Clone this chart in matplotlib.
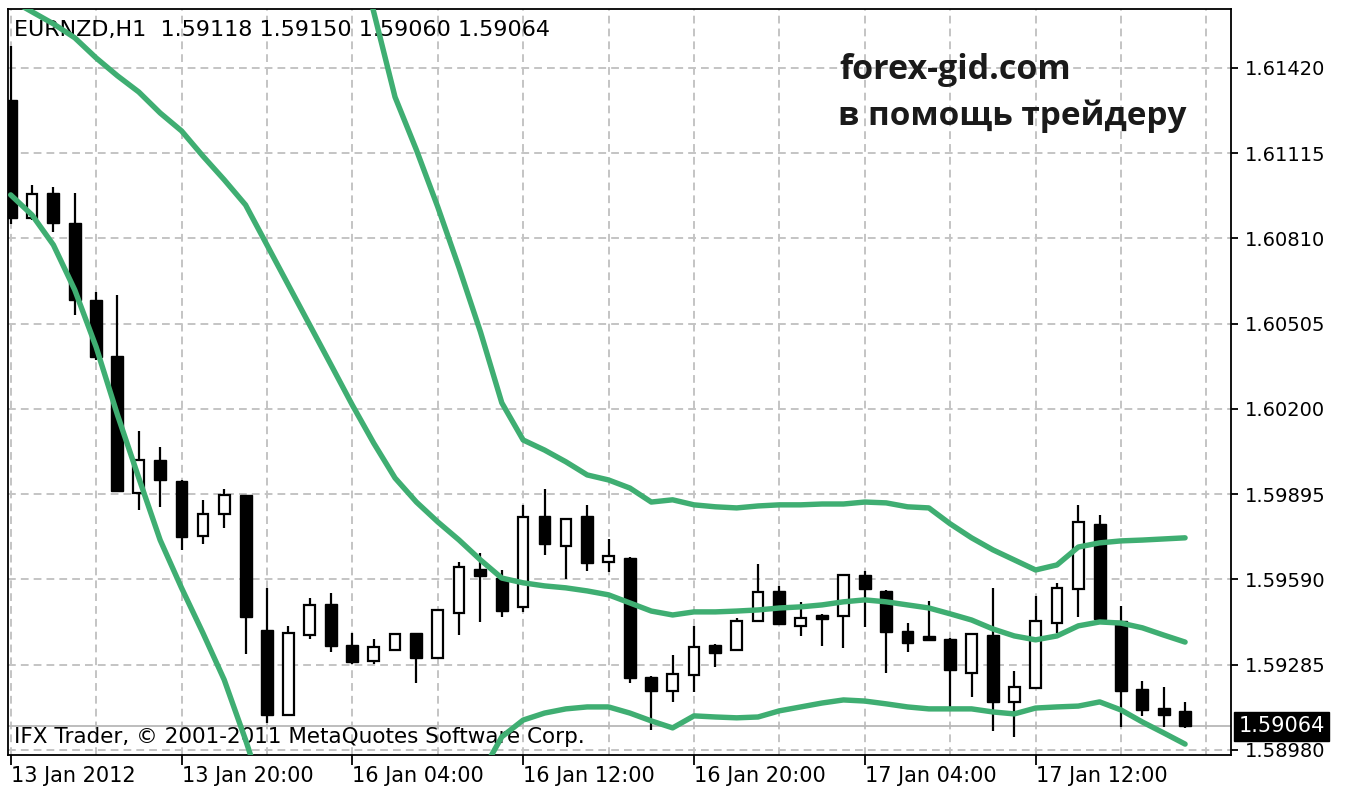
import numpy as np
import matplotlib
matplotlib.use("Agg")
import matplotlib.pyplot as plt
import matplotlib.transforms as mtransforms
from matplotlib.ticker import FixedLocator, MultipleLocator

# --- chart data (EURNZD H1) ---
symbol = "EURNZD,H1"
open_ = [1.61306, 1.60883, 1.60973, 1.60866, 1.60590, 1.60390, 1.59900, 1.60018,
         1.59943, 1.59746, 1.59824, 1.59892, 1.59409, 1.59105, 1.59391, 1.59502,
         1.59356, 1.59298, 1.59338, 1.59399, 1.59309, 1.59470, 1.59628, 1.59595,
         1.59492, 1.59817, 1.59710, 1.59817, 1.59653, 1.59667, 1.59241, 1.59191,
         1.59248, 1.59356, 1.59338, 1.59442, 1.59549, 1.59424, 1.59463, 1.59460,
         1.59606, 1.59549, 1.59406, 1.59388, 1.59377, 1.59256, 1.59391, 1.59152,
         1.59202, 1.59434, 1.59556, 1.59789, 1.59442, 1.59198, 1.59130, 1.59118]
high = [1.61499, 1.61002, 1.60994, 1.60973, 1.60619, 1.60608, 1.60121, 1.60064,
        1.59945, 1.59875, 1.59914, 1.59894, 1.59560, 1.59424, 1.59524, 1.59542,
        1.59399, 1.59377, 1.59397, 1.59399, 1.59484, 1.59653, 1.59685, 1.59624,
        1.59857, 1.59914, 1.59810, 1.59857, 1.59735, 1.59670, 1.59244, 1.59320,
        1.59424, 1.59358, 1.59452, 1.59646, 1.59567, 1.59510, 1.59467, 1.59608,
        1.59620, 1.59553, 1.59434, 1.59513, 1.59379, 1.59398, 1.59560, 1.59263,
        1.59531, 1.59578, 1.59857, 1.59821, 1.59495, 1.59227, 1.59205, 1.59150]
low = [1.60862, 1.60876, 1.60833, 1.60536, 1.60375, 1.59903, 1.59839, 1.59850,
       1.59696, 1.59717, 1.59774, 1.59324, 1.59077, 1.59102, 1.59377, 1.59331,
       1.59288, 1.59288, 1.59335, 1.59220, 1.59306, 1.59391, 1.59438, 1.59456,
       1.59474, 1.59678, 1.59592, 1.59620, 1.59617, 1.59220, 1.59052, 1.59152,
       1.59188, 1.59277, 1.59336, 1.59440, 1.59429, 1.59388, 1.59352, 1.59345,
       1.59420, 1.59256, 1.59331, 1.59372, 1.59134, 1.59170, 1.59048, 1.59026,
       1.59200, 1.59399, 1.59456, 1.59447, 1.59062, 1.59102, 1.59062, 1.59060]
close = [1.60883, 1.60969, 1.60866, 1.60590, 1.60386, 1.59907, 1.60018, 1.59946,
         1.59742, 1.59824, 1.59892, 1.59456, 1.59105, 1.59399, 1.59499, 1.59352,
         1.59295, 1.59349, 1.59395, 1.59309, 1.59481, 1.59635, 1.59603, 1.59477,
         1.59814, 1.59717, 1.59807, 1.59649, 1.59674, 1.59238, 1.59191, 1.59252,
         1.59349, 1.59327, 1.59442, 1.59545, 1.59431, 1.59452, 1.59449, 1.59606,
         1.59556, 1.59402, 1.59363, 1.59374, 1.59266, 1.59395, 1.59152, 1.59205,
         1.59442, 1.59560, 1.59796, 1.59449, 1.59191, 1.59123, 1.59105, 1.59064]

nan = np.nan
bb_upper = [nan] * 16 + [
    1.61914, 1.61621, 1.61316, 1.61127, 1.60923, 1.60705, 1.60476, 1.60222,
    1.60089, 1.60053, 1.60011, 1.59964, 1.59946, 1.59917, 1.59867, 1.59875,
    1.59857, 1.59850, 1.59846, 1.59853, 1.59857, 1.59857, 1.59860, 1.59860,
    1.59867, 1.59864, 1.59850, 1.59846, 1.59789, 1.59739, 1.59696, 1.59660,
    1.59624, 1.59642, 1.59706, 1.59721, 1.59728, 1.59731, 1.59735, 1.59739]
bb_middle = [1.61664, 1.61621, 1.61578, 1.61528, 1.61456, 1.61392, 1.61334, 1.61259,
             1.61195, 1.61105, 1.61020, 1.60930, 1.60787, 1.60644, 1.60501, 1.60358,
             1.60214, 1.60078, 1.59953, 1.59867, 1.59796, 1.59731, 1.59660, 1.59595,
             1.59578, 1.59567, 1.59560, 1.59549, 1.59535, 1.59506, 1.59477, 1.59463,
             1.59474, 1.59474, 1.59477, 1.59481, 1.59488, 1.59492, 1.59499, 1.59510,
             1.59517, 1.59510, 1.59499, 1.59488, 1.59467, 1.59445, 1.59413, 1.59388,
             1.59374, 1.59388, 1.59424, 1.59438, 1.59434, 1.59417, 1.59391, 1.59366]
bb_lower = [1.60966, 1.60894, 1.60787, 1.60626, 1.60422, 1.60179, 1.59953, 1.59731,
            1.59560, 1.59399, 1.59231, 1.59016, 1.58783] + [nan] * 9 + [
            1.58891, 1.59027, 1.59087, 1.59112, 1.59127, 1.59134, 1.59134, 1.59112,
            1.59084, 1.59059, 1.59102, 1.59098, 1.59095, 1.59098, 1.59120, 1.59134,
            1.59148, 1.59159, 1.59155, 1.59145, 1.59134, 1.59127, 1.59127, 1.59127,
            1.59116, 1.59109, 1.59130, 1.59134, 1.59137, 1.59152, 1.59123, 1.59080,
            1.59041, 1.59001]

time_labels = ["13 Jan 2012", "13 Jan 20:00", "16 Jan 04:00", "16 Jan 12:00",
               "16 Jan 20:00", "17 Jan 04:00", "17 Jan 12:00"]
label_bars = [0, 8, 16, 24, 32, 40, 48]
price_ticks = [1.58980, 1.59285, 1.59590, 1.59895, 1.60200,
               1.60505, 1.60810, 1.61115, 1.61420]
last_price = close[-1]

W, H = 1349, 798
fig = plt.figure(figsize=(W / 100, H / 100), dpi=100)
fig.patch.set_facecolor("white")
ax = fig.add_axes([8 / W, (H - 755) / H, 1223 / W, 746 / H])

x = np.arange(len(close))
o = np.array(open_)
c = np.array(close)
bull = c >= o
body_bottom = np.minimum(o, c)
body_height = np.maximum(np.abs(c - o), 0.00002)

# --- candles ---
ax.vlines(x, low, high, color="black", lw=1.6, zorder=2)
ax.bar(x[bull], body_height[bull], bottom=body_bottom[bull], width=0.5,
       facecolor="white", edgecolor="black", linewidth=1.6, zorder=3)
ax.bar(x[~bull], body_height[~bull], bottom=body_bottom[~bull], width=0.56,
       facecolor="black", edgecolor="black", linewidth=1.0, zorder=3)

# --- bollinger bands ---
green = "#3fae72"
for band in (bb_upper, bb_middle, bb_lower):
    ax.plot(x, band, color=green, lw=3.9, solid_capstyle="round",
            solid_joinstyle="round", zorder=5)

ax.axhline(last_price, color="#b8b8b8", lw=1.3, zorder=1.5)

ax.set_xlim(-0.126, 57.15)
ax.set_ylim(1.58962, 1.61631)

ax.xaxis.set_major_locator(FixedLocator(label_bars))
ax.xaxis.set_minor_locator(MultipleLocator(4))
ax.set_xticklabels(time_labels)
for lbl in ax.get_xticklabels():
    lbl.set_ha("left")
ax.yaxis.tick_right()
ax.set_yticks(price_ticks)
ax.set_yticklabels([f"{p:.5f}" for p in price_ticks])

ax.tick_params(axis="x", which="major", length=7, width=1.3, pad=1,
               labelsize=15, colors="black")
ax.tick_params(axis="x", which="minor", length=0)
ax.tick_params(axis="y", length=5, width=1.3, pad=5, labelsize=14)

ax.set_axisbelow(True)
ax.grid(True, which="both", color="#c4c4c4", linestyle=(0, (4, 2.6)), lw=1.4)
for s in ax.spines.values():
    s.set_linewidth(1.3)
    s.set_color("black")

# --- texts ---
ax.text(0.005, 0.972, f"{symbol}  1.59118 1.59150 1.59060 1.59064",
        transform=ax.transAxes, fontsize=16, va="center", ha="left", zorder=1)
ax.text(0.005, 0.024, "IFX Trader, \u00a9 2001-2011 MetaQuotes Software Corp.",
        transform=ax.transAxes, fontsize=15.5, va="center", ha="left", zorder=1)
ax.text(0.68, 0.918, "forex-gid.com", transform=ax.transAxes,
        family=["Open Sans", "DejaVu Sans"], fontweight="bold", fontsize=24.5,
        va="center", ha="left", color="#1a1a1a", zorder=1)
ax.text(0.679, 0.856, "в помощь трейдеру", transform=ax.transAxes,
        family=["Open Sans", "DejaVu Sans"], fontweight="bold", fontsize=24,
        va="center", ha="left", color="#1a1a1a", zorder=1)

# current price tag on the right axis
trans = mtransforms.blended_transform_factory(ax.transAxes, ax.transData)
ax.text(1.006, last_price, f"{last_price:.5f}", transform=trans, color="white",
        fontsize=15, va="center", ha="left", clip_on=False, zorder=10,
        bbox=dict(boxstyle="square,pad=0.22", facecolor="black", edgecolor="black"))

fig.savefig("out.png", dpi=100, facecolor="white")
